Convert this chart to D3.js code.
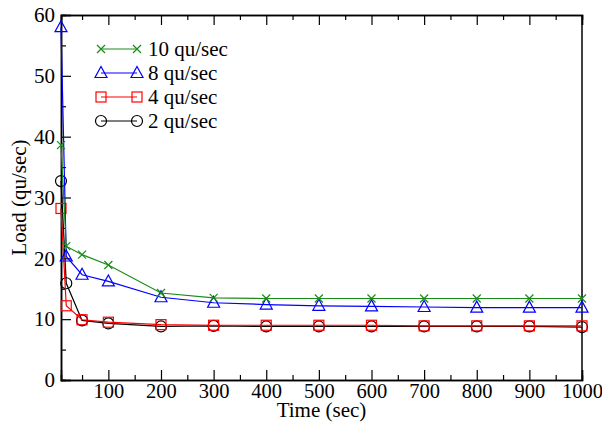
<!DOCTYPE html>
<html>
<head>
<meta charset="utf-8">
<script src="https://cdn.jsdelivr.net/npm/d3@7"></script>
<style>
  body { margin: 0; background: #fff; }
  svg text { font-family: "Liberation Serif", "Times New Roman", Times, "DejaVu Serif", serif; fill: #000; }
</style>
</head>
<body>
<div class="canvas"></div>
<script>
// Data
const times = [10, 20, 50, 100, 200, 300, 400, 500, 600, 700, 800, 900, 1000];
const load10 = [38.6, 22.0, 20.6, 18.9, 14.3, 13.5, 13.4, 13.4, 13.4, 13.4, 13.4, 13.4, 13.4];
const load8 = [58.0, 20.3, 17.3, 16.2, 13.6, 12.7, 12.4, 12.2, 12.1, 12.0, 11.9, 11.9, 11.9];
const load4 = [28.2, 12.2, 9.9, 9.5, 9.1, 9.0, 9.0, 9.0, 9.0, 8.9, 8.9, 8.9, 8.9];
const load2 = [32.7, 15.9, 9.8, 9.3, 8.8, 8.9, 8.8, 8.8, 8.8, 8.8, 8.8, 8.8, 8.7];
const seriesNames = ["10 qu/sec", "8 qu/sec", "4 qu/sec", "2 qu/sec"];
const xTicks = [100, 200, 300, 400, 500, 600, 700, 800, 900, 1000];
const yTicks = [0, 10, 20, 30, 40, 50, 60];

const series = [
  { name: seriesNames[0], values: load10, color: "#1a8c1a", marker: "x" },
  { name: seriesNames[1], values: load8, color: "#0000ff", marker: "triangle" },
  { name: seriesNames[2], values: load4, color: "#ff0000", marker: "square" },
  { name: seriesNames[3], values: load2, color: "#000000", marker: "circle" },
];

// Setup
const width = 602, height = 424;
const margin = { top: 15, right: 20, bottom: 44, left: 61 };
const w = width - margin.left - margin.right;
const h = height - margin.top - margin.bottom;

const svg = d3.select(".canvas").append("svg")
  .attr("width", width).attr("height", height);
const graph = svg.append("g").attr("transform", `translate(${margin.left}, ${margin.top})`);

const x = d3.scaleLinear().domain([10, 1000]).range([0, w]);
const y = d3.scaleLinear().domain([0, 60]).range([h, 0]);

// Axes (ticks inward)
const xMinor = d3.range(50, 1000, 100);
const yMinor = d3.range(5, 60, 10);

const xAxis = graph.append("g").attr("transform", `translate(0, ${h})`)
  .call(d3.axisBottom(x).tickValues(xTicks).tickSize(-10).tickPadding(3).tickFormat(d3.format("d")));
graph.append("g").attr("transform", `translate(0, ${h})`)
  .call(d3.axisBottom(x).tickValues(xMinor).tickSize(-5).tickFormat(""));
const yAxis = graph.append("g")
  .call(d3.axisLeft(y).tickValues(yTicks).tickSize(-10).tickPadding(6));
graph.append("g")
  .call(d3.axisLeft(y).tickValues(yMinor).tickSize(-5).tickFormat(""));
graph.append("g")
  .call(d3.axisTop(x).tickValues(xTicks).tickSize(-10).tickFormat(""));
graph.append("g")
  .call(d3.axisTop(x).tickValues(xMinor).tickSize(-5).tickFormat(""));
graph.append("line").attr("x1", w).attr("x2", w).attr("y1", 0).attr("y2", h)
  .attr("stroke", "#000").attr("stroke-width", 1.5);

graph.selectAll("g").attr("font-family", null);
graph.selectAll(".domain").attr("stroke", "#000").attr("stroke-width", 1.5);
graph.selectAll(".tick line").attr("stroke", "#000").attr("stroke-width", 1.2);
yAxis.selectAll(".tick text").attr("font-size", 21);
xAxis.selectAll(".tick text").attr("font-size", 20.5);

// Axis titles
svg.append("text")
  .attr("x", margin.left + w / 2).attr("y", 417)
  .attr("text-anchor", "middle").attr("font-size", 21)
  .text("Time (sec)");
svg.append("text")
  .attr("transform", `translate(26, ${margin.top + h / 2}) rotate(-90)`)
  .attr("text-anchor", "middle").attr("font-size", 21)
  .text("Load (qu/sec)");

// Markers
function drawMarker(sel, type, color) {
  if (type === "x") {
    sel.append("path").attr("d", "M-4,-4L4,4M-4,4L4,-4")
      .attr("stroke", color).attr("stroke-width", 1.2).attr("fill", "none");
  } else if (type === "triangle") {
    sel.append("path").attr("d", "M0,-6.5L6,4.5L-6,4.5Z")
      .attr("stroke", color).attr("stroke-width", 1.2).attr("fill", "none");
  } else if (type === "square") {
    sel.append("rect").attr("x", -5).attr("y", -5).attr("width", 10).attr("height", 10)
      .attr("stroke", color).attr("stroke-width", 1.2).attr("fill", "none");
  } else {
    sel.append("circle").attr("r", 5.5)
      .attr("stroke", color).attr("stroke-width", 1.2).attr("fill", "none");
  }
}

const line = d3.line().x((d, i) => x(times[i])).y((d) => y(d));

// Draw back to front: 2, 4, 8, 10
series.slice().reverse().forEach((s) => {
  graph.append("path").datum(s.values)
    .attr("d", line).attr("fill", "none")
    .attr("stroke", s.color).attr("stroke-width", 1.2);
  graph.selectAll(null).data(s.values).enter().append("g")
    .attr("transform", (d, i) => `translate(${x(times[i])}, ${y(d)})`)
    .each(function () { drawMarker(d3.select(this), s.marker, s.color); });
});

// Legend
const legend = svg.append("g").attr("transform", "translate(101, 49)");
series.forEach((s, i) => {
  const g = legend.append("g").attr("transform", `translate(0, ${i * 24})`);
  g.append("line").attr("x1", 0).attr("x2", 36).attr("y1", 0).attr("y2", 0)
    .attr("stroke", s.color).attr("stroke-width", 1.2);
  drawMarker(g.append("g"), s.marker, s.color);
  drawMarker(g.append("g").attr("transform", "translate(36, 0)"), s.marker, s.color);
  g.append("text").attr("x", 47).attr("y", 7).attr("font-size", 21).text(s.name);
});
</script>
</body>
</html>
